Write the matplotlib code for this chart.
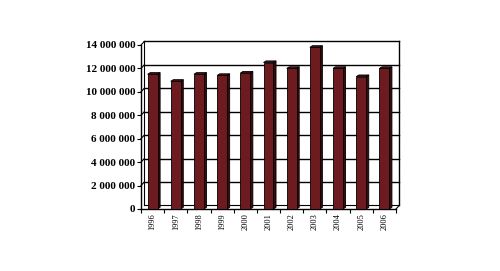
import numpy as np
import matplotlib
matplotlib.use("Agg")
import matplotlib.pyplot as plt
from matplotlib.patches import Polygon
from matplotlib.ticker import FuncFormatter

# Data
years = ["1996", "1997", "1998", "1999", "2000", "2001",
         "2002", "2003", "2004", "2005", "2006"]
values = [11.5e6, 10.9e6, 11.5e6, 11.4e6, 11.6e6, 12.5e6,
          12.0e6, 13.8e6, 12.0e6, 11.3e6, 12.0e6]
yticks = [0, 2e6, 4e6, 6e6, 8e6, 10e6, 12e6, 14e6]

front_col = "#6e1b1f"
side_col = "#3a0b0e"
top_col = "#4f1216"

fig = plt.figure(figsize=(5, 2.71), dpi=100)
ax = fig.add_axes([0.282, 0.2288, 0.51, 0.6052])

x = np.arange(len(years))
w = 0.43
dx, dy = 0.14, 0.3e6     # 3d depth of the back wall
bdx, bdy = 0.11, 0.14e6  # 3d depth of the bars
ymax = yticks[-1]
xl, xr = -0.5, len(years) - 0.5

# back wall and gridlines
for v in yticks[1:]:
    ax.plot([xl + dx, xr + dx], [v + dy, v + dy], color="black", lw=1.0, clip_on=False, zorder=1)
    ax.plot([xl, xl + dx], [v, v + dy], color="black", lw=0.8, clip_on=False, zorder=1)
ax.plot([xl + dx, xl + dx], [dy, ymax + dy], color="black", lw=0.8, clip_on=False, zorder=1)
ax.plot([xr + dx, xr + dx], [dy, ymax + dy], color="black", lw=1.0, clip_on=False, zorder=1)
ax.plot([xl + dx, xr + dx], [dy, dy], color="black", lw=0.8, clip_on=False, zorder=1)
ax.plot([xr, xr + dx], [0, dy], color="black", lw=0.8, clip_on=False, zorder=1)

# bars with side and top faces
ax.bar(x, values, width=w, color=front_col, edgecolor="black", linewidth=0.6, zorder=3)
for xi, v in zip(x, values):
    x0, x1 = xi - w / 2, xi + w / 2
    side = Polygon([[x1, 0], [x1 + bdx, bdy], [x1 + bdx, v + bdy], [x1, v]],
                   closed=True, facecolor=side_col, edgecolor="black", lw=0.6, zorder=2.9, clip_on=False)
    top = Polygon([[x0, v], [x0 + bdx, v + bdy], [x1 + bdx, v + bdy], [x1, v]],
                  closed=True, facecolor=top_col, edgecolor="black", lw=0.6, zorder=2.9, clip_on=False)
    ax.add_patch(side)
    ax.add_patch(top)

ax.set_xlim(xl, xr)
ax.set_ylim(0, ymax)
for s in ["top", "right"]:
    ax.spines[s].set_visible(False)
ax.spines["left"].set_linewidth(1.0)
ax.spines["bottom"].set_linewidth(1.0)

ax.set_yticks(yticks)
ax.yaxis.set_major_formatter(FuncFormatter(lambda v, p: "{:,}".format(int(v)).replace(",", " ")))
ax.tick_params(axis="y", length=3, width=0.8, pad=1, direction="out")
for lab in ax.get_yticklabels():
    lab.set_fontfamily("Liberation Serif")
    lab.set_fontweight("bold")
    lab.set_fontsize(8)

ax.set_xticks(x)
ax.set_xticklabels(years, rotation=90, fontsize=6, family="Liberation Serif")
ax.tick_params(axis="x", which="major", length=0, pad=3)
ax.set_xticks(np.arange(len(years) + 1) - 0.5, minor=True)
ax.tick_params(axis="x", which="minor", length=3, width=0.8, direction="out")

fig.savefig("out.png", dpi=100)
